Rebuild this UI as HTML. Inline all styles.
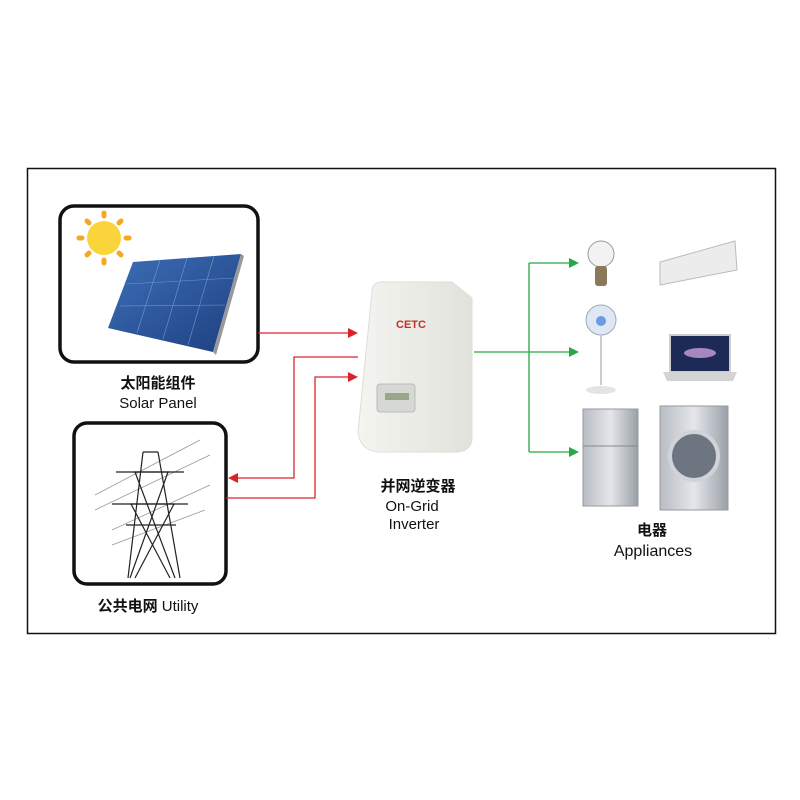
<!DOCTYPE html>
<html><head><meta charset="utf-8"><style>
body{margin:0;background:#fff;width:800px;height:800px;overflow:hidden}
svg{display:block}
text{font-family:"Liberation Sans","Noto Sans CJK SC",sans-serif;fill:#111}
</style></head><body>
<svg width="800" height="800" viewBox="0 0 800 800">
<defs>
<linearGradient id="pv" x1="0" y1="0" x2="1" y2="1"><stop offset="0" stop-color="#3d6fb8"/><stop offset="1" stop-color="#1e3f80"/></linearGradient>
<linearGradient id="inv" x1="0" y1="0" x2="1" y2="0"><stop offset="0" stop-color="#f4f4f0"/><stop offset="1" stop-color="#e2e2dc"/></linearGradient>
<linearGradient id="met" x1="0" y1="0" x2="1" y2="0"><stop offset="0" stop-color="#b8bcc4"/><stop offset=".5" stop-color="#e4e6ea"/><stop offset="1" stop-color="#9aa0a8"/></linearGradient>
</defs>
<rect x="27.5" y="168.5" width="748" height="465" fill="#fff" stroke="#111" stroke-width="1.5"/>
<!-- solar box -->
<rect x="60" y="206" width="198" height="156" rx="14" fill="#fff" stroke="#111" stroke-width="3.5"/>
<g fill="#f5b433"><circle cx="104" cy="238" r="17" fill="#f9d43a"/>
<g stroke="#f5a623" stroke-width="5" stroke-linecap="round"><line x1="104" y1="213" x2="104" y2="216"/><line x1="104" y1="260" x2="104" y2="263"/><line x1="79" y1="238" x2="82" y2="238"/><line x1="126" y1="238" x2="129" y2="238"/><line x1="87" y1="221" x2="89" y2="223"/><line x1="119" y1="253" x2="121" y2="255"/><line x1="121" y1="221" x2="119" y2="223"/><line x1="87" y1="255" x2="89" y2="253"/></g></g>
<polygon points="133,262 241,254 213,352 108,328" fill="url(#pv)"/>
<polygon points="241,254 244,256 216,355 213,352" fill="#999"/>
<g stroke="#8fb0e0" stroke-width=".6" opacity=".7"><line x1="127" y1="284" x2="234" y2="278"/><line x1="120" y1="306" x2="225" y2="305"/><line x1="160" y1="260" x2="137" y2="333"/><line x1="187" y1="258" x2="163" y2="339"/><line x1="214" y1="256" x2="188" y2="345"/></g>
<text x="158" y="388" font-size="15" font-weight="bold" text-anchor="middle">太阳能组件</text>
<text x="158" y="408" font-size="15" text-anchor="middle">Solar Panel</text>
<!-- utility box -->
<rect x="74" y="423" width="152" height="161" rx="13" fill="#fff" stroke="#111" stroke-width="3.5"/>
<g stroke="#999" stroke-width=".8"><line x1="95" y1="495" x2="200" y2="440"/><line x1="95" y1="510" x2="210" y2="455"/><line x1="112" y1="530" x2="210" y2="485"/><line x1="112" y1="545" x2="205" y2="510"/></g>
<g stroke="#222" stroke-width="1.2" fill="none"><path d="M143 452 L128 578 M158 452 L180 578 M143 452 L158 452 M134 472 L170 472 M130 504 L175 504 M126 525 L176 525 M135 472 L175 578 M168 472 L130 578 M131 504 L170 578 M174 504 L135 578"/><path d="M116 472 L184 472 M112 504 L188 504"/></g>
<text x="148" y="611" font-size="15" text-anchor="middle"><tspan font-weight="bold">公共电网 </tspan>Utility</text>
<!-- inverter -->
<path d="M372 292 Q372 282 382 282 L452 282 L472 298 L472 440 Q470 452 455 452 L378 452 Q360 450 358 432 Z" fill="url(#inv)" stroke="#ddd"/>
<text x="396" y="328" font-size="11" font-weight="bold" fill="#c0312b" style="fill:#c0312b">CETC</text>
<rect x="377" y="384" width="38" height="28" rx="3" fill="#d6d8d4" stroke="#bbb"/>
<rect x="385" y="393" width="24" height="7" fill="#9aa68a"/>
<text x="418" y="491" font-size="15" font-weight="bold" text-anchor="middle">并网逆变器</text>
<text x="412" y="511" font-size="15" text-anchor="middle">On-Grid</text>
<text x="414" y="529" font-size="15" text-anchor="middle">Inverter</text>
<!-- red lines -->
<g stroke="#d9232a" stroke-width="1.3" fill="none"><path d="M258 333 H352"/><path d="M358 357 H294 V478 H236"/><path d="M352 377 H315 V498 H226"/></g>
<g fill="#d9232a"><polygon points="358,333 348,328 348,338"/><polygon points="358,377 348,372 348,382"/><polygon points="228,478 238,473 238,483"/></g>
<!-- green lines -->
<g stroke="#27a844" stroke-width="1.3" fill="none"><path d="M474 352 H572"/><path d="M529 263 V452"/><path d="M529 263 H572"/><path d="M529 452 H572"/></g>
<g fill="#27a844"><polygon points="579,263 569,258 569,268"/><polygon points="579,352 569,347 569,357"/><polygon points="579,452 569,447 569,457"/></g>
<!-- appliances -->
<circle cx="601" cy="254" r="13" fill="#f2f2f2" stroke="#999"/><rect x="595" y="266" width="12" height="20" rx="3" fill="#8a7a5a"/>
<polygon points="660,262 735,241 737,270 660,285" fill="#ececec" stroke="#bbb"/>
<circle cx="601" cy="320" r="15" fill="#dfe8f2" stroke="#9ab"/><circle cx="601" cy="321" r="5" fill="#6b9be0"/><line x1="601" y1="335" x2="601" y2="385" stroke="#ccc" stroke-width="2"/><ellipse cx="601" cy="390" rx="15" ry="4" fill="#e4e4e4"/>
<rect x="670" y="335" width="60" height="37" fill="#1c2a55" stroke="#ccc" stroke-width="2"/><ellipse cx="700" cy="353" rx="16" ry="5" fill="#c9a0d8" opacity=".8"/><polygon points="663,372 737,372 733,381 667,381" fill="#d4d4d4"/>
<rect x="583" y="409" width="55" height="97" fill="url(#met)" stroke="#999"/><line x1="583" y1="446" x2="638" y2="446" stroke="#888"/>
<rect x="660" y="406" width="68" height="104" fill="url(#met)" stroke="#999"/><circle cx="694" cy="456" r="24" fill="#6d7680" stroke="#d0d4da" stroke-width="4"/>
<text x="652" y="535" font-size="15" font-weight="bold" text-anchor="middle">电器</text>
<text x="653" y="556" font-size="16" text-anchor="middle">Appliances</text>
</svg>
</body></html>
